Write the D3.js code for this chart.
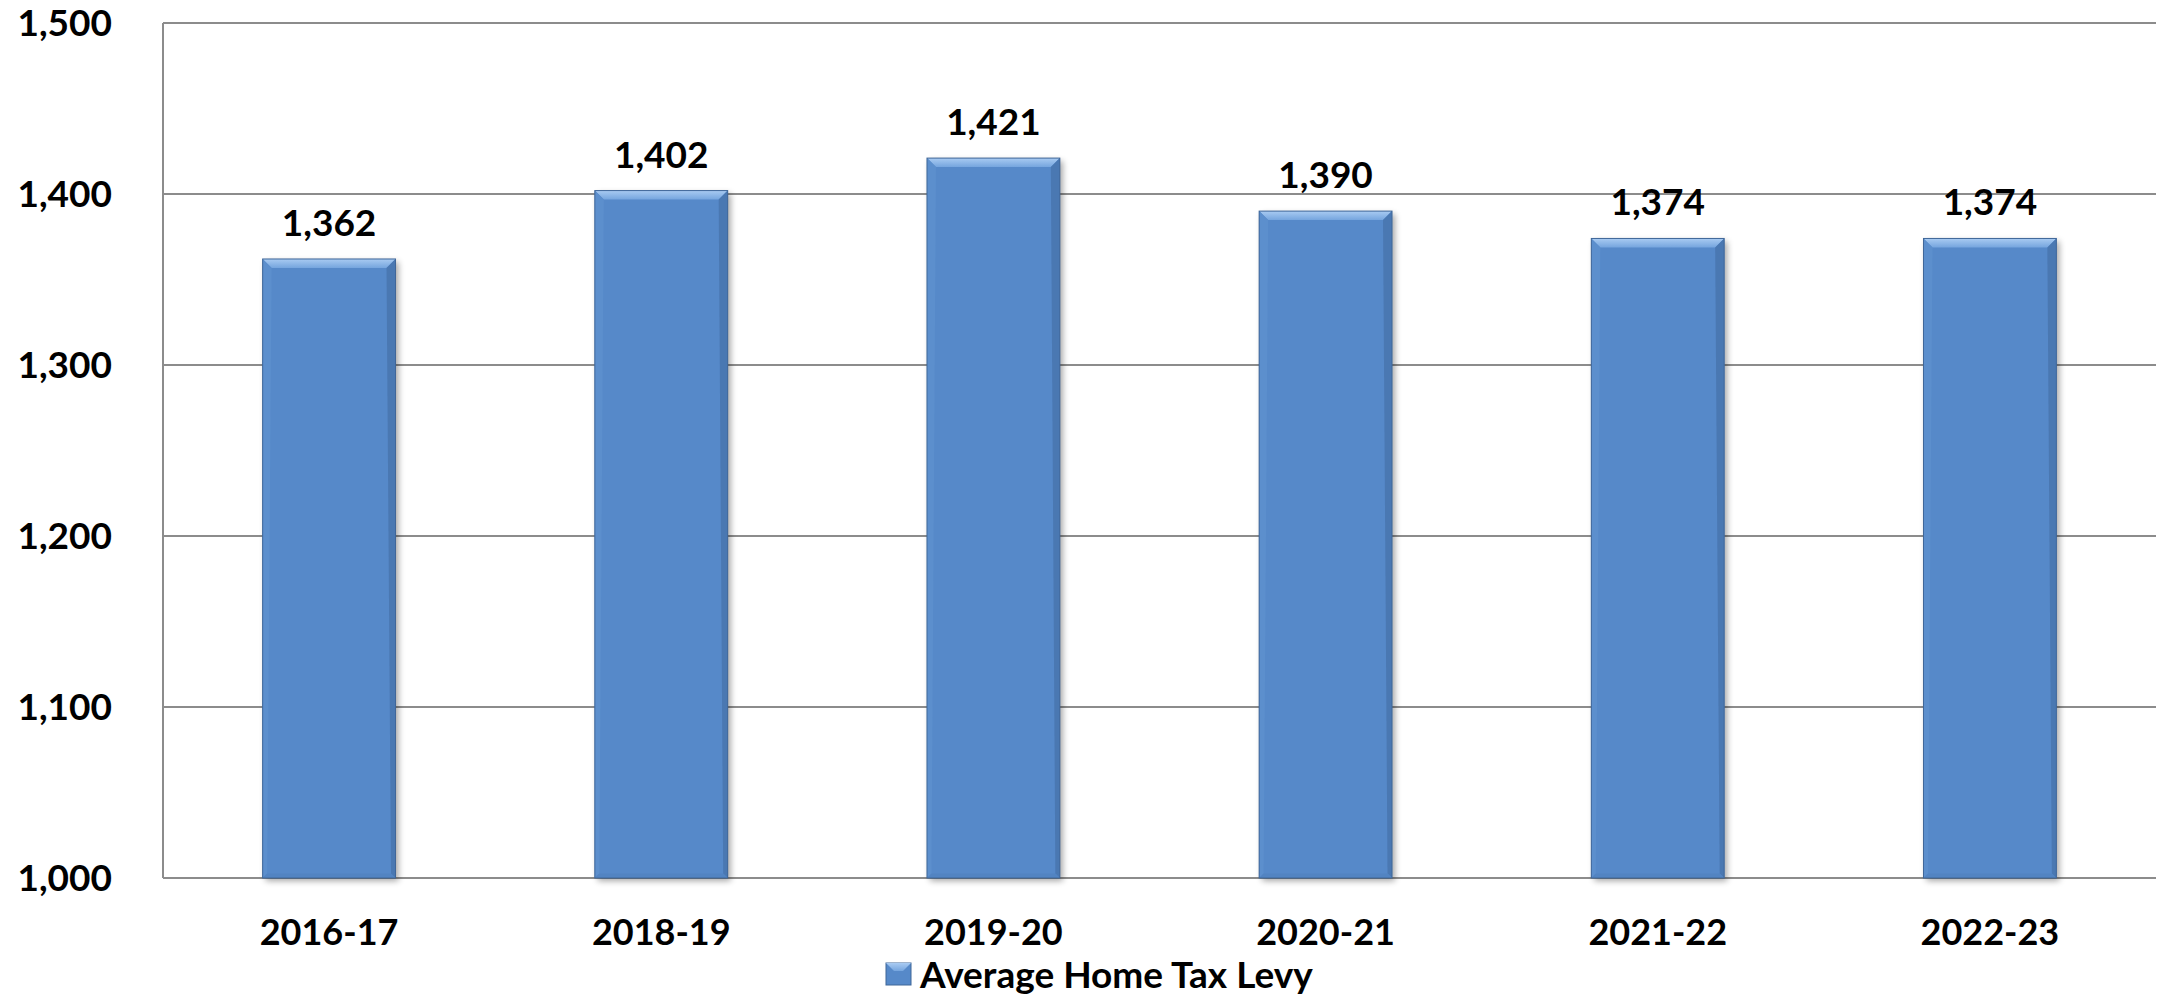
<!DOCTYPE html>
<html>
<head>
<meta charset="utf-8">
<script src="https://cdn.jsdelivr.net/npm/d3@7"></script>
<style>
    body { margin: 0; background: #fff; }
    text { font-family: Lato, "Open Sans", sans-serif; font-weight: bold; fill: #000; }
</style>
</head>
<body>
<svg id="chart"></svg>
<script>
// chart data
const years = ["2016-17", "2018-19", "2019-20", "2020-21", "2021-22", "2022-23"];
const levy = [1362, 1402, 1421, 1390, 1374, 1374];
const yTicks = [1000, 1100, 1200, 1300, 1400, 1500];
const seriesName = "Average Home Tax Levy";

const config = {
    width: 2159,
    height: 1007,
    margin: {top: 23, right: 3, bottom: 129, left: 163},
    barColor: "#5689c9",
    bevel: 9
};

const svg = d3.select("#chart")
    .attr("width", config.width)
    .attr("height", config.height);

const w = config.width - config.margin.left - config.margin.right;
const h = config.height - config.margin.top - config.margin.bottom;

const defs = svg.append("defs");
const shadow = defs.append("filter").attr("id", "shadow")
    .attr("x", "-20%").attr("y", "-5%").attr("width", "140%").attr("height", "115%");
shadow.append("feGaussianBlur").attr("in", "SourceAlpha").attr("stdDeviation", 3);
shadow.append("feOffset").attr("dx", 3).attr("dy", 3).attr("result", "b");
shadow.append("feComponentTransfer").append("feFuncA").attr("type", "linear").attr("slope", 0.35);
const merge = shadow.append("feMerge");
merge.append("feMergeNode");
merge.append("feMergeNode").attr("in", "SourceGraphic");

// soft light band along the top edge
const topGrad = defs.append("linearGradient").attr("id", "topGrad")
    .attr("x1", 0).attr("y1", 0).attr("x2", 0).attr("y2", 1);
topGrad.append("stop").attr("offset", "0%").attr("stop-color", "#a9cbf2");
topGrad.append("stop").attr("offset", "100%").attr("stop-color", "#75a5de");

const g = svg.append("g")
    .attr("transform", `translate(${config.margin.left},${config.margin.top})`);

const x = d3.scaleBand().domain(years).range([0, w]);
const y = d3.scaleLinear().domain([1000, 1500]).range([h, 0]);
const fmt = d3.format(",");

// gridlines
g.selectAll(".grid")
    .data(yTicks)
    .join("line")
    .attr("class", "grid")
    .attr("x1", 0).attr("x2", w)
    .attr("y1", d => y(d)).attr("y2", d => y(d))
    .attr("stroke", "#8c8c8c")
    .attr("stroke-width", 2);

// left axis line
g.append("line")
    .attr("x1", 0).attr("x2", 0)
    .attr("y1", 0).attr("y2", h)
    .attr("stroke", "#8c8c8c")
    .attr("stroke-width", 2);

// y labels
g.selectAll(".ylab")
    .data(yTicks)
    .join("text")
    .attr("class", "ylab")
    .attr("x", -51)
    .attr("y", d => y(d))
    .attr("dy", "0.36em")
    .attr("text-anchor", "end")
    .style("font-size", "37px")
    .text(fmt);

const barW = x.bandwidth() * 0.4;
const bars = g.selectAll(".bar")
    .data(years.map((d, i) => ({year: d, value: levy[i]})))
    .join("g")
    .attr("class", "bar")
    .attr("transform", d => `translate(${x(d.year) + (x.bandwidth() - barW) / 2},0)`);

bars.append("rect")
    .attr("x", 0)
    .attr("y", d => y(d.value))
    .attr("width", barW)
    .attr("height", d => h - y(d.value))
    .attr("fill", config.barColor)
    .attr("filter", "url(#shadow)");

// bevel edges
const b = config.bevel;
bars.append("path")
    .attr("fill", "url(#topGrad)")
    .attr("d", d => {
        const t = y(d.value);
        return `M0,${t}L${barW},${t}L${barW - b},${t + b}L${b},${t + b}Z`;
    });
bars.append("path")
    .attr("fill", "#4a78b2")
    .attr("d", d => {
        const t = y(d.value);
        return `M${barW},${t}L${barW},${h}L${barW - b / 2},${h - b / 2}L${barW - b},${t + b}Z`;
    });
bars.append("path")
    .attr("fill", "#5c8fcd")
    .attr("d", d => {
        const t = y(d.value);
        return `M0,${t}L${b},${t + b}L${b / 2},${h - b / 2}L0,${h}Z`;
    });
bars.append("path")
    .attr("fill", "#5284c2")
    .attr("d", `M0,${h}L${b / 2},${h - b / 2}L${barW - b / 2},${h - b / 2}L${barW},${h}Z`);
bars.append("rect")
    .attr("x", 0)
    .attr("y", d => y(d.value))
    .attr("width", barW)
    .attr("height", d => h - y(d.value))
    .attr("fill", "none")
    .attr("stroke", "#3f6698")
    .attr("stroke-width", 1);

// value labels
bars.append("text")
    .attr("x", barW / 2)
    .attr("y", d => y(d.value) - 23)
    .attr("text-anchor", "middle")
    .style("font-size", "37px")
    .text(d => fmt(d.value));

// x labels
g.selectAll(".xlab")
    .data(years)
    .join("text")
    .attr("class", "xlab")
    .attr("x", d => x(d) + x.bandwidth() / 2)
    .attr("y", h + 67)
    .attr("text-anchor", "middle")
    .style("font-size", "36px")
    .text(d => d);

// legend
const legend = svg.append("g").attr("transform", "translate(886,963)");
legend.append("rect")
    .attr("width", 25).attr("height", 22)
    .attr("fill", config.barColor)
    .attr("stroke", "#3f6698");
legend.append("path")
    .attr("fill", "url(#topGrad)")
    .attr("d", "M0,0L25,0L17,8L8,8Z");
legend.append("text")
    .attr("x", 34)
    .attr("y", 25)
    .style("font-size", "37px")
    .text(seriesName);
</script>
</body>
</html>
